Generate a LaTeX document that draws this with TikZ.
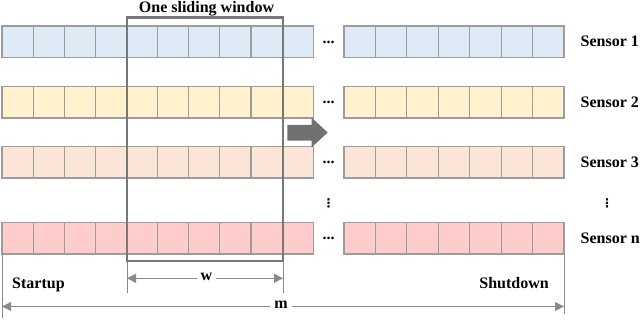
\documentclass[tikz,border=0pt]{standalone}
\usepackage{fontspec}
\setmainfont{Liberation Serif}
\newfontfamily\symfont{DejaVu Sans}
\usepackage{tikz}
\usetikzlibrary{arrows.meta,positioning}
\definecolor{rowblue}{HTML}{DEEAF6}
\definecolor{rowyellow}{HTML}{FFF2CC}
\definecolor{roworange}{HTML}{FBE5D6}
\definecolor{rowpink}{HTML}{FFCCCC}
\definecolor{cellgrey}{HTML}{9C9C9C}
\definecolor{wingrey}{HTML}{777777}
\definecolor{dimgrey}{HTML}{8A8A8A}

\tikzset{
  cell/.style={draw=cellgrey, line width=1.1pt},
  lbl/.style={font=\fontsize{16}{19}\selectfont\bfseries, inner sep=0pt},
  vdotlbl/.style={font=\fontsize{12}{14}\selectfont\symfont\bfseries, inner sep=0pt},
  dimline/.style={dimgrey, line width=1pt},
  dimarrow/.style={dimgrey, line width=1pt, {Triangle[length=9pt,width=9pt]}-{Triangle[length=9pt,width=9pt]}},
  dimlabel/.style={lbl, fill=white, inner xsep=4pt, inner ysep=2pt}
}

\begin{document}
\begin{tikzpicture}[x=1pt, y=-1pt]
        \useasboundingbox (0,0) rectangle (640,320);

        % sensor rows
        \foreach \r/\y/\c in {1/26/rowblue, 2/86.7/rowyellow, 3/146.7/roworange, n/222.7/rowpink}{
            \foreach \i in {0,...,9}
                \filldraw[cell, fill=\c] (2+31.13*\i,\y) rectangle ++(31.13,31.3);
            \foreach \i in {0,...,6}
                \filldraw[cell, fill=\c] (344+31.43*\i,\y) rectangle ++(31.43,31.3);
            \node[lbl] (dots\r) at (328.5,\y+16) {...};
            \node[lbl, anchor=west] (sensor\r) at (580.5,\y+15.6) {Sensor \r};
        }

        % vertical dots
        \node[vdotlbl] (vdotsL) at (328.5,203) {⋮};
        \node[vdotlbl] (vdotsR) at (607,203.5) {⋮};

        % sliding window
        \node[draw=wingrey, line width=2.8pt, minimum width=156pt, minimum height=243.7pt, inner sep=0pt] (window) at (205,139.15) {};
        \node[lbl, anchor=base] (title) at (206.5,12.6) {One sliding window};

        % moving arrow
        \fill[wingrey!95!black] (287.3,125) -- (311.7,125) -- (311.7,117.7) -- (327.7,132.5)
            -- (311.7,147.3) -- (311.7,140.7) -- (287.3,140.7) -- cycle;

        % extension lines
        \coordinate (mTop) at (2,254);
        \coordinate (mBot) at (2,318);
        \coordinate (nTop) at (564,254);
        \coordinate (nBot) at (564,314);
        \coordinate (wTopL) at (127,262);
        \coordinate (wBotL) at (127,293);
        \coordinate (wTopR) at (283,262);
        \coordinate (wBotR) at (283,293);
        \draw[dimline] (mTop) -- (mBot);
        \draw[dimline] (nTop) -- (nBot);
        \draw[dimline] (wTopL) -- (wBotL);
        \draw[dimline] (wTopR) -- (wBotR);

        % dimensions
        \coordinate (wL) at (127,278.3);
        \coordinate (wR) at (283,278.3);
        \coordinate (mL) at (2,306.5);
        \coordinate (mR) at (564,306.5);
        \draw[dimarrow] (wL) -- (wR);
        \node[dimlabel] (wlabel) at (206.5,277) {w};
        \draw[dimarrow] (mL) -- (mR);
        \node[dimlabel] (mlabel) at (281,305) {m};

        \node[lbl, anchor=base west] (startup) at (12,288.5) {Startup};
        \node[lbl, anchor=base east] (shutdown) at (549,288.5) {Shutdown};
\end{tikzpicture}
\end{document}
